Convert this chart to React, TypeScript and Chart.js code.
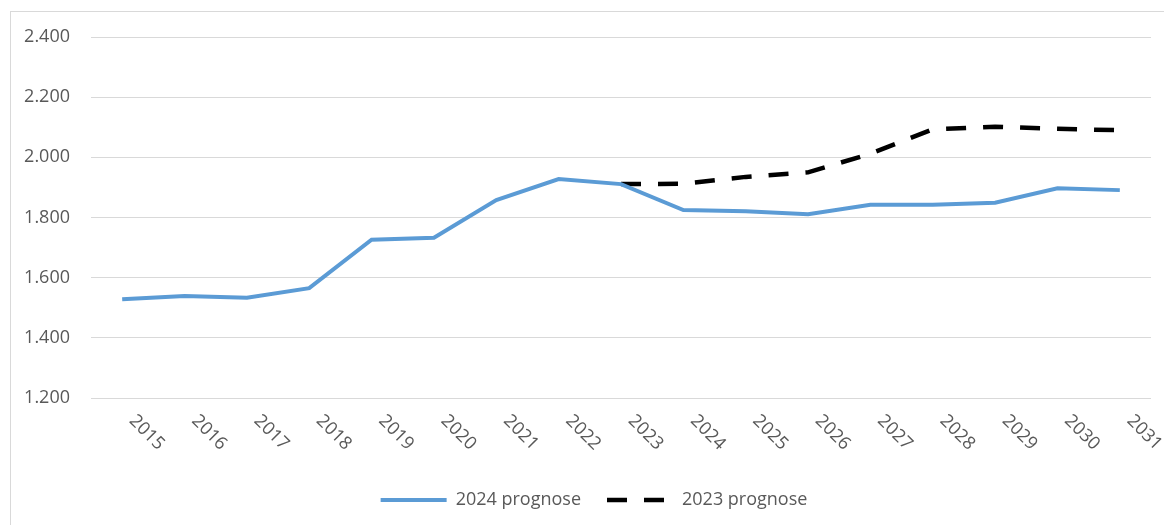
import React, { useEffect, useRef } from "react";
import { Chart, registerables } from "chart.js";

Chart.register(...registerables);

const years = ["2015", "2016", "2017", "2018", "2019", "2020", "2021", "2022", "2023", "2024", "2025", "2026", "2027", "2028", "2029", "2030", "2031"];
const prognose2024 = [1528, 1539, 1533, 1565, 1726, 1733, 1858, 1928, 1911, 1825, 1821, 1811, 1842, 1842, 1849, 1897, 1891];
const prognose2023 = [null, null, null, null, null, null, null, null, 1911, 1912, 1935, 1950, 2012, 2093, 2102, 2095, 2090];
const yMin = 1200;
const yMax = 2400;
const yStep = 200;

const FONT = "'Open Sans', sans-serif";
const TEXT = "#595959";
const DASH = [20, 17];

function formatThousands(v: number): string {
  const s = Math.round(v).toString();
  if (s.length <= 3) return s;
  return s.slice(0, s.length - 3) + "." + s.slice(s.length - 3);
}

const rotatedXLabels = {
  id: "rotatedXLabels",
  afterLayout(chart: any) {
    // centre the legend under the whole frame rather than the padded area
    if (chart.legend) {
      chart.legend.left += 18.5;
      chart.legend.right += 18.5;
    }
  },
  afterDraw(chart: any) {
    const xs = chart.scales.x;
    const ctx = chart.ctx;
    const bottom = chart.chartArea.bottom;
    ctx.save();
    ctx.font = `18px ${FONT}`;
    ctx.fillStyle = TEXT;
    ctx.textAlign = "left";
    ctx.textBaseline = "middle";
    years.forEach((label, i) => {
      const x = xs.getPixelForTick(i);
      ctx.save();
      ctx.translate(x + 10, bottom + 20);
      ctx.rotate(Math.PI / 4);
      ctx.fillText(label, 0, 0);
      ctx.restore();
    });
    ctx.restore();
  },
};

export default function App() {
  const ref = useRef<HTMLCanvasElement | null>(null);

  useEffect(() => {
    if (!ref.current) return;
    const baseGen = (Chart as any).defaults.plugins.legend.labels.generateLabels;
    const chart = new Chart(ref.current, {
      type: "line",
      data: {
        labels: years,
        datasets: [
          {
            label: "2024 prognose",
            data: prognose2024,
            borderColor: "#5b9bd5",
            backgroundColor: "#5b9bd5",
            borderWidth: 4,
            pointRadius: 0,
            tension: 0,
          },
          {
            label: "2023 prognose",
            data: prognose2023,
            borderColor: "#000000",
            backgroundColor: "#000000",
            borderWidth: 4.5,
            borderDash: DASH,
            pointRadius: 0,
            tension: 0,
          },
        ],
      },
      options: {
        responsive: false,
        animation: false,
        layout: { padding: { left: 0, right: 13, top: 37, bottom: 6 } },
        plugins: {
          tooltip: { enabled: false },
          legend: {
            position: "bottom",
            labels: {
              usePointStyle: true,
              pointStyle: "line",
              pointStyleWidth: 66,
              padding: 26,
              color: TEXT,
              font: { family: FONT, size: 18 },
              generateLabels: (c: any) => {
                const items = baseGen(c);
                return items.map((it: any) => {
                  const ds = c.data.datasets[it.datasetIndex];
                  if (ds.borderDash) {
                    it.lineDash = ds.borderDash;
                    it.lineDashOffset = 0;
                  }
                  it.lineWidth = ds.borderWidth;
                  return it;
                });
              },
            },
          },
        },
        scales: {
          x: {
            offset: true,
            grid: { display: false },
            border: { display: false },
            ticks: { display: false },
            afterFit: (s: any) => {
              s.height = 67;
            },
          },
          y: {
            min: yMin,
            max: yMax,
            ticks: {
              stepSize: yStep,
              padding: 21,
              color: TEXT,
              font: { family: FONT, size: 18 },
              callback: (v: any) => formatThousands(Number(v)),
            },
            grid: { color: "#d9d9d9", lineWidth: 1, drawTicks: false },
            border: { display: false },
            afterFit: (s: any) => {
              s.width = 91;
            },
          },
        },
      },
      plugins: [rotatedXLabels],
    });
    return () => chart.destroy();
  }, []);

  return (
    <div style={{ position: "fixed", left: 0, top: 0, width: 1164, height: 525, overflow: "hidden", background: "#ffffff" }}>
      <div
        style={{
          position: "absolute",
          left: 10,
          top: 11,
          width: 1200,
          height: 600,
          border: "1px solid #d9d9d9",
        }}
      />
      <canvas ref={ref} width={1164} height={525} style={{ position: "absolute", left: 0, top: 0 }} />
    </div>
  );
}
